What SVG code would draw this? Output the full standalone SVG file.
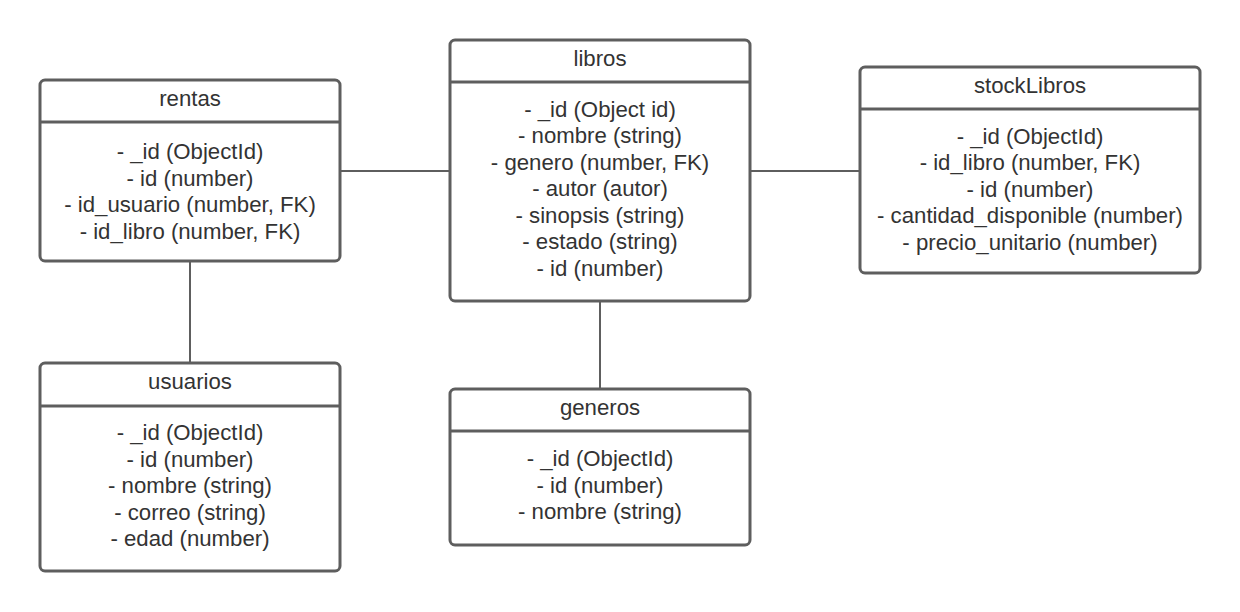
<svg xmlns="http://www.w3.org/2000/svg" width="1240" height="612" viewBox="0 0 1240 612">
<style>
.box{fill:#ffffff;stroke:#5e5e5e;stroke-width:3}
.div{stroke:#5e5e5e;stroke-width:3}
.conn{stroke:#5e5e5e;stroke-width:2;fill:none}
text{font-family:"Liberation Sans",Arial,sans-serif;font-size:22.2px;fill:#333333;text-anchor:middle}
</style>
<rect width="1240" height="612" fill="#ffffff"/>
<g id="connectors">
<line class="conn" x1="340" y1="171" x2="450" y2="171"/>
<line class="conn" x1="750" y1="171" x2="860" y2="171"/>
<line class="conn" x1="190" y1="261" x2="190" y2="363"/>
<line class="conn" x1="600" y1="301" x2="600" y2="389"/>
</g>
<g id="rentas">
<rect class="box" x="40" y="80" width="300" height="181" rx="5"/>
<line class="div" x1="40" y1="122" x2="340" y2="122"/>
<text x="190" y="106">rentas</text>
<text x="190" y="159">- _id (ObjectId)</text>
<text x="190" y="185.5">- id (number)</text>
<text x="190" y="212">- id_usuario (number, FK)</text>
<text x="190" y="238.5">- id_libro (number, FK)</text>
</g>
<g id="libros">
<rect class="box" x="450" y="40" width="300" height="261" rx="5"/>
<line class="div" x1="450" y1="82" x2="750" y2="82"/>
<text x="600" y="66">libros</text>
<text x="600" y="116.5">- _id (Object id)</text>
<text x="600" y="143">- nombre (string)</text>
<text x="600" y="169.5">- genero (number, FK)</text>
<text x="600" y="196">- autor (autor)</text>
<text x="600" y="222.5">- sinopsis (string)</text>
<text x="600" y="249">- estado (string)</text>
<text x="600" y="275.5">- id (number)</text>
</g>
<g id="stockLibros">
<rect class="box" x="860" y="67" width="340" height="206" rx="5"/>
<line class="div" x1="860" y1="109" x2="1200" y2="109"/>
<text x="1030" y="93">stockLibros</text>
<text x="1030" y="143.5">- _id (ObjectId)</text>
<text x="1030" y="170">- id_libro (number, FK)</text>
<text x="1030" y="196.5">- id (number)</text>
<text x="1030" y="223">- cantidad_disponible (number)</text>
<text x="1030" y="249.5">- precio_unitario (number)</text>
</g>
<g id="usuarios">
<rect class="box" x="40" y="363" width="300" height="208" rx="5"/>
<line class="div" x1="40" y1="406" x2="340" y2="406"/>
<text x="190" y="389">usuarios</text>
<text x="190" y="440">- _id (ObjectId)</text>
<text x="190" y="466.5">- id (number)</text>
<text x="190" y="493">- nombre (string)</text>
<text x="190" y="519.5">- correo (string)</text>
<text x="190" y="546">- edad (number)</text>
</g>
<g id="generos">
<rect class="box" x="450" y="389" width="300" height="156" rx="5"/>
<line class="div" x1="450" y1="431" x2="750" y2="431"/>
<text x="600" y="415">generos</text>
<text x="600" y="466">- _id (ObjectId)</text>
<text x="600" y="492.5">- id (number)</text>
<text x="600" y="519">- nombre (string)</text>
</g>
</svg>
